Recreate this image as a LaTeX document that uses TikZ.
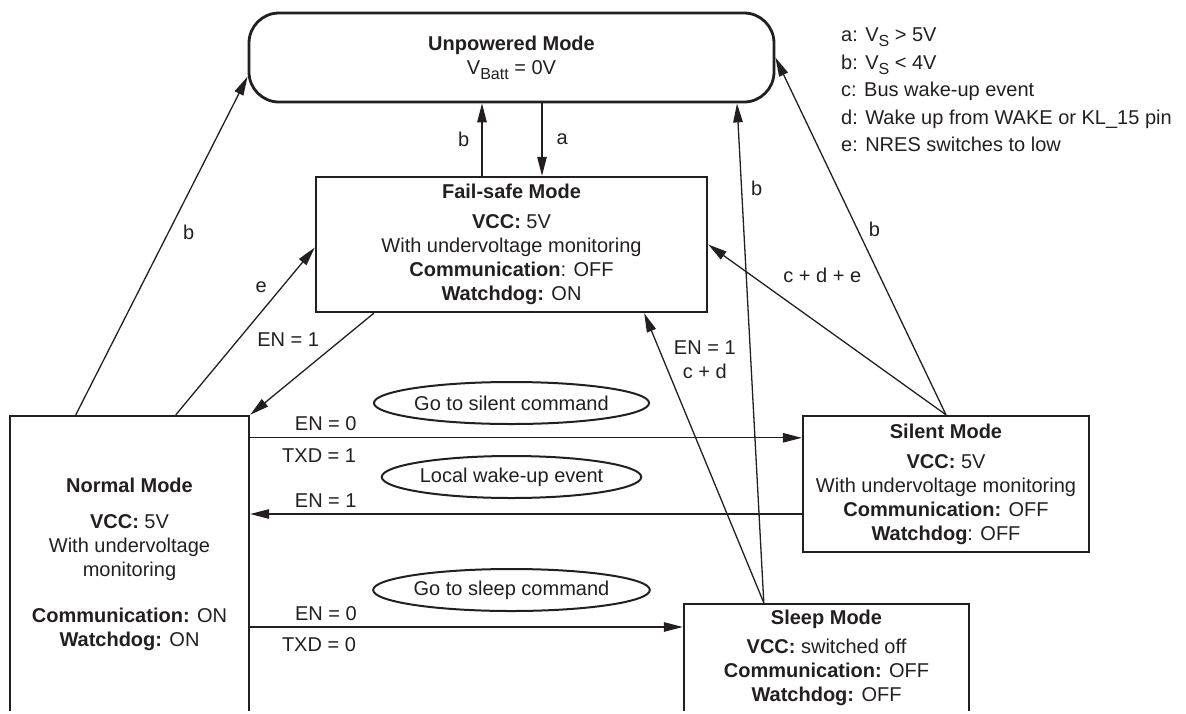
\documentclass[tikz,border=0pt]{standalone}
\usepackage{fontspec}
\setmainfont{Liberation Sans}
\usetikzlibrary{arrows.meta,positioning,shapes.geometric}
\definecolor{ink}{RGB}{35,31,32}
\def\lowsub#1{\raisebox{-0.45ex}{\fontsize{16}{16}\selectfont #1}}
\tikzset{
	modebox/.style={draw=ink, line width=2.4pt, align=center, inner sep=0pt, font=\fontsize{20}{24}\selectfont},
	cmdbubble/.style={ellipse, draw=ink, line width=2pt, minimum width=255pt, minimum height=42pt, inner sep=0pt},
	trans/.style={draw=ink, line width=1.3pt, -{Triangle[length=19pt,width=9.5pt]}},
	lbl/.style={text=ink, inner sep=2pt},
}

\begin{document}
\begin{tikzpicture}[x=1pt, y=-1pt, text=ink, font=\fontsize{20}{24}\selectfont]
		%%%%% START %%%%%
		\useasboundingbox (0,0) rectangle (1186,713);
		\clip (-5,-5) rectangle (1191,710);
		
		\node[modebox, rounded corners=30pt, line width=2.8pt, minimum width=525pt, minimum height=89pt] (unpow) at (511.5,57.5) {\textbf{Unpowered Mode}\\V\lowsub{Batt} = 0V};
		\node[modebox, minimum width=391pt, minimum height=135pt] (failsafe) at (511.5,244.5) {\textbf{Fail-safe Mode}\\[6pt]\textbf{VCC:} 5V\\With undervoltage monitoring\\\textbf{Communication}: OFF\\\textbf{Watchdog:} ON};
		\node[modebox, minimum width=239pt, minimum height=297pt] (normal) at (129.5,564.5) {\textbf{Normal Mode}\\[12pt]\textbf{VCC:} 5V\\With undervoltage\\monitoring\\[22pt]\textbf{Communication:} ON\\\textbf{Watchdog:} ON};
		\node[modebox, minimum width=286pt, minimum height=136pt] (silent) at (946,484) {\textbf{Silent Mode}\\[6pt]\textbf{VCC:} 5V\\With undervoltage monitoring\\\textbf{Communication:} OFF\\\textbf{Watchdog}: OFF};
		\node[modebox, minimum width=285pt, minimum height=108pt] (sleep) at (826.5,658) {\textbf{Sleep Mode}\\[5pt]\textbf{VCC:} switched off\\\textbf{Communication:} OFF\\\textbf{Watchdog:} OFF};
		
		\node[cmdbubble] (gosilent) at (511.5,403) {Go to silent command};
		\node[cmdbubble] (localwake) at (511.5,477) {Local wake-up event};
		\node[cmdbubble] (gosleep) at (511.5,590) {Go to sleep command};
		
		\node[align=left, anchor=west, inner sep=0pt, font=\fontsize{20}{27.5}\selectfont] (legend) at (841,90) {a: V\lowsub{S} > 5V\\b: V\lowsub{S} < 4V\\c: Bus wake-up event\\d: Wake up from WAKE or KL\_15 pin\\e: NRES switches to low};
		
		% up to unpowered
		\draw[trans] ([shift={(67,0)}]normal.north west) -- node[lbl, pos=0.54, right=12pt] {b} ([shift={(0,19)}]unpow.west);
		\draw[trans] ([shift={(-29.5,0)}]failsafe.north) -- node[lbl, left=10pt] {b} ([shift={(-29.5,0)}]unpow.south);
		\draw[trans] ([shift={(30.5,0)}]unpow.south) -- node[lbl, right=12pt] {a} ([shift={(30.5,0)}]failsafe.north);
		\draw[trans] ([shift={(81,0)}]sleep.north west) -- node[lbl, pos=0.83, right=7pt] {b} ([shift={(225.5,0)}]unpow.south);
		\draw[trans] (silent.north) -- node[lbl, pos=0.52, right=9pt] {b} (unpow.east);
		
		% fail-safe
		\draw[trans] ([shift={(167,0)}]normal.north west) -- node[lbl, pos=0.76, left=12pt] {e} ([shift={(0,3)}]failsafe.west);
		\draw[trans] ([shift={(59,0)}]failsafe.south west) -- node[lbl, pos=0.26, left=20pt] {EN = 1} (normal.north east);
		\draw[trans] ([shift={(81,0)}]sleep.north west) -- node[lbl, align=center, pos=0.84, right=8pt] {EN = 1\\c + d} ([shift={(-64,0)}]failsafe.south east);
		\draw[trans] (silent.north) -- node[lbl, pos=0.52, above=41pt] {c + d + e} (failsafe.east);
		
		% normal <-> silent, sleep
		\coordinate (tosilent) at ([shift={(0,23)}]normal.north east);
		\draw[trans] (tosilent) -- node[lbl, pos=0.137, above=4pt] {EN = 0} node[lbl, pos=0.125, below=8pt] {TXD = 1} (tosilent -| silent.west);
		\coordinate (fromsilent) at ([shift={(0,30)}]silent.west);
		\draw[trans] (fromsilent) -- node[lbl, pos=0.863, above=4pt] {EN = 1} (fromsilent -| normal.east);
		\coordinate (tosleep) at ([shift={(0,-31)}]sleep.west);
		\draw[trans] (tosleep -| normal.east) -- node[lbl, pos=0.175, above=4pt] {EN = 0} node[lbl, pos=0.159, below=8pt] {TXD = 0} (tosleep);
		
		%%%%% END %%%%%
\end{tikzpicture}
\end{document}
